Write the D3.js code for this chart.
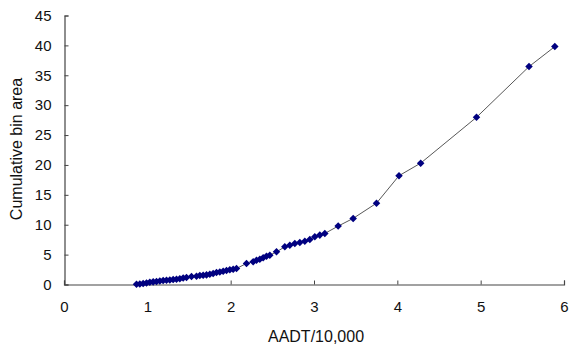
<!DOCTYPE html>
<html><head><meta charset="utf-8">
<script src="https://cdn.jsdelivr.net/npm/d3@7"></script>
<style>body{margin:0;background:#fff}svg{display:block}text{font-family:"Liberation Sans",Arial,sans-serif;fill:#111}</style>
</head><body><svg id="c" width="572" height="346"></svg>
<script>
const aadt = [0.87,0.91,0.95,0.99,1.03,1.07,1.11,1.15,1.19,1.23,1.27,1.31,1.35,1.39,1.43,1.47,1.53,1.59,1.63,1.67,1.71,1.75,1.79,1.83,1.87,1.91,1.95,1.99,2.03,2.07,2.19,2.27,2.31,2.35,2.39,2.43,2.47,2.55,2.65,2.71,2.77,2.83,2.89,2.95,3.01,3.07,3.13,3.29,3.47,3.75,4.02,4.28,4.95,5.58,5.89];
const binArea = [0.05,0.1,0.17,0.27,0.38,0.44,0.5,0.58,0.65,0.72,0.77,0.83,0.89,0.95,1.1,1.17,1.34,1.39,1.5,1.56,1.61,1.72,1.84,2.0,2.11,2.23,2.34,2.45,2.56,2.68,3.52,3.79,4.07,4.24,4.46,4.74,4.91,5.46,6.3,6.58,6.87,7.04,7.25,7.54,7.97,8.26,8.54,9.77,11.06,13.6,18.2,20.3,27.97,36.45,39.8];
const xTicks = [0,1,2,3,4,5,6];
const yTicks = [0,5,10,15,20,25,30,35,40,45];
const xTitle = "AADT/10,000";
const yTitle = "Cumulative bin area";

const svg = d3.select("#c");
const x = d3.scaleLinear().domain([0,6]).range([64,564]);
const y = d3.scaleLinear().domain([0,45]).range([284.5,15.5]);
const axisColor = "#444";

const xa = svg.append("g").attr("transform","translate(0,284.5)")
  .call(d3.axisBottom(x).tickValues(xTicks).tickSize(-4).tickPadding(17).tickFormat(d3.format("d")));
const ya = svg.append("g").attr("transform","translate(64.5,0)")
  .call(d3.axisLeft(y).tickValues(yTicks).tickSize(-4).tickPadding(13).tickFormat(d3.format("d")));
[xa,ya].forEach(a=>{
  a.select(".domain").attr("stroke",axisColor).attr("stroke-width",1.2);
  a.selectAll(".tick line").attr("stroke",axisColor);
  a.selectAll("text").attr("font-size",15).style("font-family","'Liberation Sans',Arial,sans-serif").attr("fill","#222");
});

const pts = aadt.map((v,i)=>[v,binArea[i]]);
svg.append("path").datum(pts)
  .attr("fill","none").attr("stroke","#444").attr("stroke-width",0.9)
  .attr("d", d3.line().x(d=>x(d[0])).y(d=>y(d[1])));
svg.append("g").selectAll("path").data(pts).join("path")
  .attr("transform",d=>`translate(${x(d[0])},${y(d[1])})`)
  .attr("d", d3.symbol(d3.symbolDiamond2, 36))
  .attr("fill","#000080");

svg.append("text").attr("x",316).attr("y",342).attr("text-anchor","middle").attr("font-size",16).attr("fill","#222").text(xTitle);
svg.append("text").attr("transform","translate(22,149) rotate(-90)").attr("text-anchor","middle").attr("font-size",16).attr("fill","#222").text(yTitle);
</script></body></html>
